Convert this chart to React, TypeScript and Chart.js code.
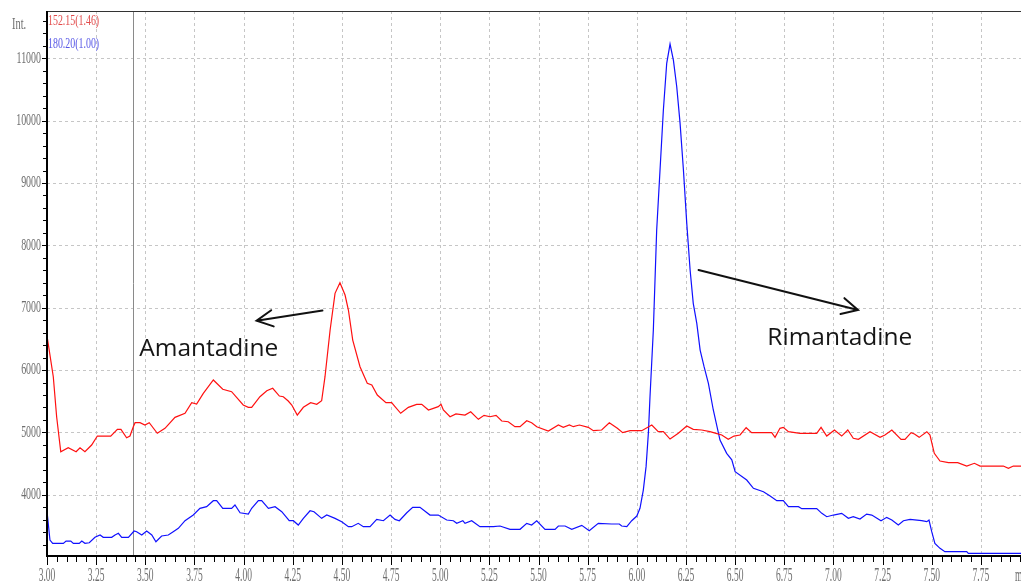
import React, { useEffect, useRef } from "react";
import { Chart, registerables } from "chart.js";

Chart.register(...registerables);

// ---------- data ----------
const redLabel = "152.15(1.46)";
const blueLabel = "180.20(1.00)";

const redTimes = [
  3.002, 3.032, 3.049, 3.070, 3.108, 3.148, 3.168, 3.193, 3.227, 3.256,
  3.324, 3.358, 3.376, 3.405, 3.422, 3.439, 3.448, 3.473, 3.498, 3.520,
  3.561, 3.600, 3.651, 3.702, 3.736, 3.761, 3.795, 3.846, 3.894, 3.939,
  3.998, 4.024, 4.041, 4.083, 4.118, 4.148, 4.182, 4.202, 4.227, 4.245,
  4.273, 4.304, 4.341, 4.372, 4.397, 4.414, 4.440, 4.465, 4.490, 4.516,
  4.533, 4.555, 4.592, 4.629, 4.652, 4.680, 4.724, 4.753, 4.770, 4.799,
  4.838, 4.880, 4.906, 4.940, 4.965, 4.990, 5.004, 5.016, 5.050, 5.080,
  5.126, 5.155, 5.194, 5.223, 5.253, 5.284, 5.313, 5.346, 5.380, 5.406,
  5.440, 5.465, 5.491, 5.550, 5.601, 5.626, 5.657, 5.677, 5.708, 5.753,
  5.779, 5.821, 5.860, 5.901, 5.928, 5.966, 6.025, 6.076, 6.109, 6.135,
  6.169, 6.211, 6.254, 6.287, 6.330, 6.372, 6.403, 6.432, 6.465, 6.494,
  6.525, 6.556, 6.584, 6.686, 6.703, 6.728, 6.745, 6.771, 6.830, 6.915,
  6.937, 6.966, 7.005, 7.042, 7.073, 7.101, 7.127, 7.186, 7.237, 7.262,
  7.297, 7.344, 7.364, 7.395, 7.412, 7.436, 7.475, 7.491, 7.513, 7.542,
  7.585, 7.632, 7.678, 7.717, 7.746, 7.864, 7.890, 7.915, 7.954,
];
const redIntensity = [
  6509, 5893, 5251, 4690, 4754, 4690, 4754, 4690, 4797, 4941,
  4941, 5049, 5049, 4914, 4941, 5091, 5155, 5155, 5118, 5155,
  4985, 5065, 5241, 5306, 5476, 5455, 5626, 5840, 5691, 5652,
  5439, 5402, 5402, 5572, 5668, 5707, 5583, 5572, 5503, 5439,
  5278, 5402, 5476, 5450, 5508, 5893, 6642, 7230, 7400, 7203,
  6963, 6481, 6053, 5787, 5760, 5599, 5476, 5476, 5412, 5306,
  5402, 5450, 5450, 5359, 5386, 5412, 5450, 5359, 5251, 5295,
  5278, 5331, 5209, 5273, 5251, 5273, 5182, 5171, 5091, 5091,
  5187, 5155, 5091, 5022, 5118, 5081, 5118, 5091, 5118, 5081,
  5027, 5038, 5155, 5065, 4995, 5027, 5027, 5118, 5011, 5011,
  4893, 4985, 5102, 5049, 5038, 5011, 4985, 4958, 4888, 4941,
  4958, 5075, 4995, 4995, 4920, 5065, 5081, 5011, 4985, 4985,
  5081, 4941, 5038, 4941, 5038, 4905, 4888, 5011, 4920, 4958,
  5038, 4888, 4888, 4995, 4974, 4920, 5011, 4958, 4664, 4541,
  4514, 4514, 4460, 4504, 4460, 4460, 4423, 4460, 4460,
];

const blueTimes = [
  3.002, 3.015, 3.029, 3.083, 3.097, 3.121, 3.134, 3.164, 3.177, 3.193,
  3.215, 3.244, 3.270, 3.286, 3.329, 3.346, 3.363, 3.380, 3.414, 3.443,
  3.456, 3.482, 3.507, 3.533, 3.554, 3.583, 3.617, 3.642, 3.668, 3.702,
  3.744, 3.778, 3.812, 3.846, 3.863, 3.894, 3.939, 3.956, 3.982, 4.024,
  4.041, 4.075, 4.092, 4.126, 4.160, 4.194, 4.232, 4.253, 4.278, 4.304,
  4.338, 4.358, 4.397, 4.423, 4.465, 4.499, 4.533, 4.550, 4.583, 4.609,
  4.643, 4.677, 4.711, 4.745, 4.770, 4.792, 4.830, 4.860, 4.897, 4.948,
  4.990, 5.033, 5.067, 5.084, 5.115, 5.126, 5.160, 5.202, 5.270, 5.304,
  5.355, 5.406, 5.440, 5.465, 5.491, 5.533, 5.584, 5.601, 5.635, 5.669,
  5.720, 5.758, 5.804, 5.872, 5.911, 5.923, 5.949, 5.974, 6.000, 6.016,
  6.033, 6.047, 6.059, 6.067, 6.084, 6.101, 6.118, 6.135, 6.152, 6.169,
  6.186, 6.203, 6.220, 6.237, 6.254, 6.271, 6.287, 6.305, 6.322, 6.342,
  6.364, 6.389, 6.423, 6.457, 6.483, 6.500, 6.559, 6.593, 6.644, 6.678,
  6.712, 6.745, 6.771, 6.822, 6.839, 6.915, 6.941, 6.966, 7.000, 7.042,
  7.076, 7.101, 7.135, 7.169, 7.195, 7.242, 7.271, 7.297, 7.330, 7.356,
  7.390, 7.449, 7.475, 7.486, 7.500, 7.516, 7.542, 7.567, 7.678, 7.686,
  7.954,
];
const blueIntensity = [
  3674, 3273, 3220, 3220, 3257, 3257, 3220, 3220, 3257, 3220,
  3230, 3317, 3354, 3317, 3317, 3354, 3381, 3317, 3317, 3418,
  3407, 3354, 3418, 3354, 3246, 3338, 3354, 3407, 3461, 3583,
  3674, 3782, 3808, 3904, 3904, 3782, 3782, 3835, 3711, 3690,
  3782, 3904, 3904, 3782, 3808, 3727, 3583, 3583, 3514, 3621,
  3743, 3727, 3621, 3674, 3621, 3567, 3487, 3487, 3541, 3487,
  3487, 3605, 3583, 3674, 3605, 3583, 3711, 3798, 3798, 3674,
  3674, 3594, 3583, 3541, 3583, 3541, 3583, 3487, 3487, 3498,
  3445, 3445, 3541, 3514, 3583, 3445, 3445, 3498, 3498, 3445,
  3509, 3423, 3541, 3530, 3530, 3498, 3487, 3583, 3658, 3782,
  4075, 4450, 5000, 5572, 6642, 8246, 9209, 10171, 10920, 11229,
  10972, 10544, 9957, 9209, 8353, 7604, 7070, 6749, 6321, 6053,
  5787, 5359, 4877, 4664, 4560, 4370, 4236, 4103, 4048, 3979,
  3904, 3904, 3808, 3808, 3776, 3776, 3701, 3647, 3674, 3701,
  3621, 3647, 3610, 3690, 3674, 3583, 3637, 3594, 3514, 3583,
  3605, 3583, 3567, 3594, 3407, 3220, 3140, 3086, 3086, 3060,
  3060,
];

const xTickValues = [3.0, 3.25, 3.5, 3.75, 4.0, 4.25, 4.5, 4.75, 5.0, 5.25, 5.5, 5.75, 6.0, 6.25, 6.5, 6.75, 7.0, 7.25, 7.5, 7.75];
const xTickLabels = ["3.00", "3.25", "3.50", "3.75", "4.00", "4.25", "4.50", "4.75", "5.00", "5.25", "5.50", "5.75", "6.00", "6.25", "6.50", "6.75", "7.00", "7.25", "7.50", "7.75"];
const yTickValues = [4000, 5000, 6000, 7000, 8000, 9000, 10000, 11000];
const yTickLabels = ["4000", "5000", "6000", "7000", "8000", "9000", "10000", "11000"];
const xUnitLabel = "min";
const yUnitLabel = "Int.";
const markerTime = 3.439;

// annotations (data units)
const amantadineText = "Amantadine";
const amantadineTextAt = [3.469, 6225];
const amantadineArrow = [[4.401, 6954], [4.066, 6791]];
const rimantadineText = "Rimantadine";
const rimantadineTextAt = [6.664, 6401];
const rimantadineArrow = [[6.314, 7604], [7.125, 6963]];

const X_MIN = 3.0;
const X_MAX = 7.954;
const Y_MIN = 3017;
const Y_MAX = 11759;

function condText(ctx: CanvasRenderingContext2D, text: string, x: number, y: number, size: number, sx: number, align: CanvasTextAlign, color: string) {
  ctx.save();
  ctx.translate(x, y);
  ctx.scale(sx, 1);
  ctx.font = `${size}px "Liberation Serif", "DejaVu Serif", serif`;
  ctx.textAlign = align;
  ctx.textBaseline = "middle";
  ctx.fillStyle = color;
  ctx.fillText(text, 0, 0);
  ctx.restore();
}

function drawArrow(ctx: CanvasRenderingContext2D, x1: number, y1: number, x2: number, y2: number) {
  ctx.save();
  ctx.strokeStyle = "#111";
  ctx.lineWidth = 2;
  ctx.lineCap = "round";
  ctx.beginPath();
  ctx.moveTo(x1, y1);
  ctx.lineTo(x2, y2);
  const ang = Math.atan2(y1 - y2, x1 - x2);
  const len = 18;
  const spread = (27 * Math.PI) / 180;
  ctx.moveTo(x2 + len * Math.cos(ang + spread), y2 + len * Math.sin(ang + spread));
  ctx.lineTo(x2, y2);
  ctx.lineTo(x2 + len * Math.cos(ang - spread), y2 + len * Math.sin(ang - spread));
  ctx.stroke();
  ctx.restore();
}

const overlayPlugin = {
  id: "chromOverlay",
  beforeDatasetsDraw(chart: any) {
    const { ctx, chartArea: a, scales } = chart;
    const xs = scales.x;
    const ys = scales.y;
    ctx.save();
    ctx.strokeStyle = "#c6c6c6";
    ctx.lineWidth = 1;
    ctx.setLineDash([3, 3]);
    xTickValues.forEach((v) => {
      if (v <= X_MIN) return;
      const px = Math.round(xs.getPixelForValue(v)) + 0.5;
      ctx.beginPath();
      ctx.moveTo(px, a.top);
      ctx.lineTo(px, a.bottom);
      ctx.stroke();
    });
    yTickValues.forEach((v) => {
      const py = Math.round(ys.getPixelForValue(v)) + 0.5;
      ctx.beginPath();
      ctx.moveTo(a.left, py);
      ctx.lineTo(a.right, py);
      ctx.stroke();
    });
    ctx.setLineDash([]);
    // marker line
    const mx = Math.round(xs.getPixelForValue(markerTime)) + 0.5;
    ctx.strokeStyle = "#8a8a8a";
    ctx.beginPath();
    ctx.moveTo(mx, a.top);
    ctx.lineTo(mx, a.bottom);
    ctx.stroke();
    ctx.restore();
  },
  afterDatasetsDraw(chart: any) {
    const { ctx, chartArea: a, scales } = chart;
    const xs = scales.x;
    const ys = scales.y;
    ctx.save();
    // frame
    ctx.strokeStyle = "#333";
    ctx.lineWidth = 1;
    ctx.beginPath();
    ctx.moveTo(a.left, a.top + 0.5);
    ctx.lineTo(a.right, a.top + 0.5);
    ctx.stroke();
    ctx.strokeStyle = "#000";
    ctx.lineWidth = 2;
    ctx.beginPath();
    ctx.moveTo(a.left, a.top);
    ctx.lineTo(a.left, a.bottom);
    ctx.lineTo(a.right, a.bottom);
    ctx.stroke();

    // y ticks
    ctx.lineWidth = 1;
    ctx.strokeStyle = "#000";
    for (let v = 3200; v <= Y_MAX; v += 200) {
      const py = Math.round(ys.getPixelForValue(v)) + 0.5;
      const major = v % 1000 === 0;
      ctx.beginPath();
      ctx.moveTo(a.left - (major ? 5 : 4), py);
      ctx.lineTo(a.left, py);
      ctx.stroke();
    }
    yTickValues.forEach((v, i) => {
      const py = ys.getPixelForValue(v);
      condText(ctx, yTickLabels[i], a.left - 6, py, 16, 0.62, "right", "#6e6e6e");
    });

    // x ticks
    for (let k = 0; ; k++) {
      const v = X_MIN + k * 0.05;
      if (v > X_MAX + 0.001) break;
      const px = Math.round(xs.getPixelForValue(v)) + 0.5;
      const major = k % 5 === 0;
      ctx.beginPath();
      ctx.moveTo(px, a.bottom + 1);
      ctx.lineTo(px, a.bottom + (major ? 9 : 6));
      ctx.stroke();
    }
    xTickValues.forEach((v, i) => {
      const px = xs.getPixelForValue(v);
      condText(ctx, xTickLabels[i], px, a.bottom + 20, 19, 0.5, "center", "#6e6e6e");
    });
    condText(ctx, xUnitLabel, a.right - 6, a.bottom + 20, 19, 0.5, "left", "#6e6e6e");
    condText(ctx, yUnitLabel, 12, a.top + 14, 16, 0.65, "left", "#6e6e6e");

    // legend texts
    condText(ctx, redLabel, a.left + 1, a.top + 10, 15, 0.66, "left", "#e24a4a");
    condText(ctx, blueLabel, a.left + 1, a.top + 33, 15, 0.66, "left", "#5656e6");

    // annotations
    ctx.font = '24.5px "Open Sans", "Liberation Sans", sans-serif';
    ctx.fillStyle = "#161616";
    ctx.textAlign = "left";
    ctx.textBaseline = "alphabetic";
    ctx.fillText(amantadineText, xs.getPixelForValue(amantadineTextAt[0]), ys.getPixelForValue(amantadineTextAt[1]));
    ctx.fillText(rimantadineText, xs.getPixelForValue(rimantadineTextAt[0]), ys.getPixelForValue(rimantadineTextAt[1]));
    drawArrow(
      ctx,
      xs.getPixelForValue(amantadineArrow[0][0]), ys.getPixelForValue(amantadineArrow[0][1]),
      xs.getPixelForValue(amantadineArrow[1][0]), ys.getPixelForValue(amantadineArrow[1][1])
    );
    drawArrow(
      ctx,
      xs.getPixelForValue(rimantadineArrow[0][0]), ys.getPixelForValue(rimantadineArrow[0][1]),
      xs.getPixelForValue(rimantadineArrow[1][0]), ys.getPixelForValue(rimantadineArrow[1][1])
    );
    ctx.restore();
  },
};

export default function App() {
  const canvasRef = useRef<HTMLCanvasElement | null>(null);

  useEffect(() => {
    if (!canvasRef.current) return;
    const chart = new Chart(canvasRef.current, {
      type: "line",
      data: {
        datasets: [
          {
            label: redLabel,
            data: redTimes.map((t, i) => ({ x: t, y: redIntensity[i] })),
            borderColor: "#ff1010",
            borderWidth: 1.2,
            pointRadius: 0,
            tension: 0,
            fill: false,
          },
          {
            label: blueLabel,
            data: blueTimes.map((t, i) => ({ x: t, y: blueIntensity[i] })),
            borderColor: "#1010ff",
            borderWidth: 1.2,
            pointRadius: 0,
            tension: 0,
            fill: false,
          },
        ],
      },
      options: {
        animation: false,
        responsive: false,
        devicePixelRatio: 1,
        events: [],
        layout: { padding: { left: 47, top: 11, right: 0, bottom: 30 } },
        plugins: { legend: { display: false }, tooltip: { enabled: false } },
        scales: {
          x: { type: "linear", min: X_MIN, max: X_MAX, display: false },
          y: { type: "linear", min: Y_MIN, max: Y_MAX, display: false },
        },
      },
      plugins: [overlayPlugin],
    });
    return () => chart.destroy();
  }, []);

  return (
    <div style={{ position: "fixed", left: 0, top: 0, width: 1021, height: 586, background: "#fff", overflow: "hidden" }}>
      <canvas ref={canvasRef} width={1021} height={586} style={{ display: "block", width: 1021, height: 586 }} />
    </div>
  );
}
